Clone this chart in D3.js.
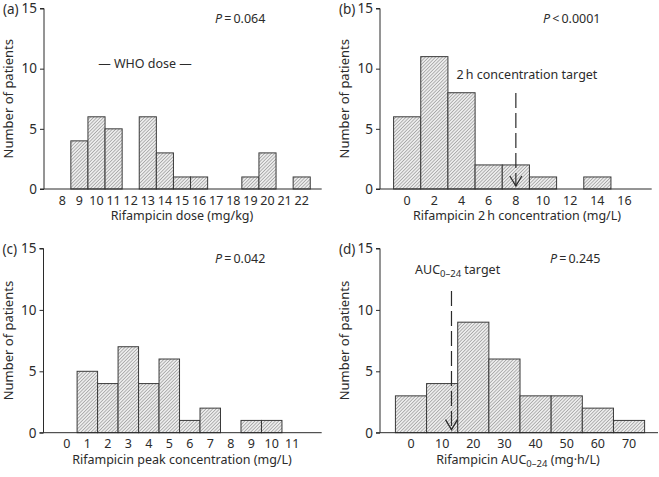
<!DOCTYPE html>
<html><head><meta charset="utf-8">
<script src="https://cdn.jsdelivr.net/npm/d3@7"></script>
<style>
body{margin:0;background:#fff;}
svg{display:block;font-family:"Noto Sans",sans-serif;}
</style></head>
<body>
<svg id="chart" width="659" height="477"></svg>
<script>
// ---- data ----
const doseBins   = [9, 10, 11, 13, 14, 15, 16, 19, 20, 22];
const doseCounts = [4, 6, 5, 6, 3, 1, 1, 1, 3, 1];
const doseTicks  = [8, 9, 10, 11, 12, 13, 14, 15, 16, 17, 18, 19, 20, 21, 22];

const conc2hBins   = [0, 2, 4, 6, 8, 10, 14];
const conc2hCounts = [6, 11, 8, 2, 2, 1, 1];
const conc2hTicks  = [0, 2, 4, 6, 8, 10, 12, 14, 16];

const peakBins   = [1, 2, 3, 4, 5, 6, 7, 9, 10];
const peakCounts = [5, 4, 7, 4, 6, 1, 2, 1, 1];
const peakTicks  = [0, 1, 2, 3, 4, 5, 6, 7, 8, 9, 10, 11];

const aucBins   = [0, 10, 20, 30, 40, 50, 60, 70];
const aucCounts = [3, 4, 9, 6, 3, 3, 2, 1];
const aucTicks  = [0, 10, 20, 30, 40, 50, 60, 70];

const yTicks = [0, 5, 10, 15];
const conc2hTarget = 8;
const aucTarget = 13;

const svg = d3.select("#chart");
const defs = svg.append("defs");
const pat = defs.append("pattern").attr("id","hatch").attr("patternUnits","userSpaceOnUse")
  .attr("width",2.4).attr("height",2.4).attr("patternTransform","rotate(45)");
pat.append("rect").attr("width",2.4).attr("height",2.4).attr("fill","#ececec");
pat.append("line").attr("x1",0).attr("y1",0).attr("x2",0).attr("y2",2.4)
  .attr("stroke","#707070").attr("stroke-width",0.9);

const ink = "#2b2b2b";
const fs = 12.5;

function panel(o){
  const g = svg.append("g");
  const x = d3.scaleLinear().domain(o.xDomain).range([o.x0, o.x1]);
  const y = d3.scaleLinear().domain([0,15]).range([o.yB, o.yT]);
  // bars
  g.selectAll("rect.bar").data(o.bins.map((b,i)=>({b, c:o.counts[i]})).filter(d=>d.c>0))
    .enter().append("rect")
    .attr("x", d=>x(d.b - o.w/2)).attr("width", d=>x(d.b + o.w/2)-x(d.b - o.w/2))
    .attr("y", d=>y(d.c)).attr("height", d=>y(0)-y(d.c))
    .attr("fill","url(#hatch)").attr("stroke","#3a3a3a").attr("stroke-width",1);
  // y axis
  const ya = g.append("g").attr("transform",`translate(${o.x0},0)`)
    .call(d3.axisLeft(y).tickValues(yTicks).tickSize(4).tickPadding(3));
  ya.select(".domain").attr("d",`M-4,${y(15)}H0V${y(0)}`).attr("stroke",ink);
  ya.selectAll("line").attr("stroke",ink);
  ya.selectAll("text").attr("font-size",13.5).attr("fill",ink).attr("font-family","Noto Sans");
  // x axis
  g.append("line").attr("x1",o.x0-4).attr("x2",o.x1).attr("y1",y(0)).attr("y2",y(0)).attr("stroke",ink);
  g.selectAll("text.xt").data(o.ticks).enter().append("text")
    .attr("x",d=>x(d)).attr("y",y(0)+15.5).attr("text-anchor","middle")
    .attr("font-size",12.5).attr("fill",ink).text(d=>d);
  // titles
  const xt = g.append("text").attr("x",o.xTitleX).attr("y",y(0)+31).attr("text-anchor","middle")
    .attr("font-size",fs).attr("fill",ink);
  o.xTitle(xt);
  g.append("text").attr("transform",`translate(${o.x0-31},${(y(0)+y(15))/2}) rotate(-90)`)
    .attr("text-anchor","middle").attr("font-size",fs+0.5).attr("fill",ink).text("Number of patients");
  g.append("text").attr("x",o.x0-41).attr("y",y(15)+5).attr("font-size",fs+1).attr("fill",ink).text(o.label);
  // p value
  const p = g.append("text").attr("x",o.pX).attr("y",y(15)+14).attr("font-size",fs).attr("fill",ink);
  p.append("tspan").attr("font-style","italic").text("P");
  p.append("tspan").text(o.pText);
  return {g,x,y};
}

function arrow(g, x, y, v, yTop){
  const xx = x(v);
  g.append("line").attr("x1",xx).attr("x2",xx).attr("y1",yTop).attr("y2",y(0)-3)
    .attr("stroke",ink).attr("stroke-width",1.2).attr("stroke-dasharray","15,5");
  g.append("path").attr("d",`M${xx-6},${y(0)-13}L${xx},${y(0)-3}L${xx+6},${y(0)-13}`)
    .attr("fill","none").attr("stroke",ink).attr("stroke-width",1.3);
}

// (a)
const A = panel({label:"(a)", bins:doseBins, counts:doseCounts, w:1, ticks:doseTicks,
  xDomain:[6.93,23.17], x0:44, x1:321.7, yT:8.5, yB:189, xTitleX:182,
  xTitle:t=>t.text("Rifampicin dose (mg/kg)"), pX:215, pText:"\u2009=\u20090.064"});
A.g.append("text").attr("x",145).attr("y",67.5).attr("text-anchor","middle")
  .attr("font-size",fs).attr("fill",ink).text("\u2014 WHO dose \u2014");

// (b)
const B = panel({label:"(b)", bins:conc2hBins, counts:conc2hCounts, w:2, ticks:conc2hTicks,
  xDomain:[-2,18], x0:380, x1:651.7, yT:8.5, yB:189, xTitleX:517,
  xTitle:t=>t.text("Rifampicin 2\u2009h concentration (mg/L)"), pX:543, pText:"\u2009<\u20090.0001"});
B.g.append("text").attr("x",527).attr("y",78.5).attr("text-anchor","middle")
  .attr("font-size",fs).attr("fill",ink).text("2\u2009h concentration target");
arrow(B.g, B.x, B.y, conc2hTarget, 93);

// (c)
const C = panel({label:"(c)", bins:peakBins, counts:peakCounts, w:1, ticks:peakTicks,
  xDomain:[-1.14,12.44], x0:43.5, x1:321.7, yT:248.5, yB:432.7, xTitleX:182,
  xTitle:t=>t.text("Rifampicin peak concentration (mg/L)"), pX:215, pText:"\u2009=\u20090.042"});

// (d)
const D = panel({label:"(d)", bins:aucBins, counts:aucCounts, w:10, ticks:aucTicks,
  xDomain:[-9.95,79.3], x0:380, x1:658, yT:248.5, yB:432.7, xTitleX:518,
  xTitle:t=>{t.append("tspan").text("Rifampicin AUC");
    t.append("tspan").attr("font-size",fs-3).attr("dy",3).text("0\u201324");
    t.append("tspan").attr("dy",-3).text(" (mg\u00b7h/L)");},
  pX:550, pText:"\u2009=\u20090.245"});
const dt = D.g.append("text").attr("x",415).attr("y",274).attr("font-size",fs).attr("fill",ink);
dt.append("tspan").text("AUC");
dt.append("tspan").attr("font-size",fs-3).attr("dy",3).text("0\u201324");
dt.append("tspan").attr("dy",-3).text(" target");
arrow(D.g, D.x, D.y, aucTarget, 291);
</script>
</body></html>
